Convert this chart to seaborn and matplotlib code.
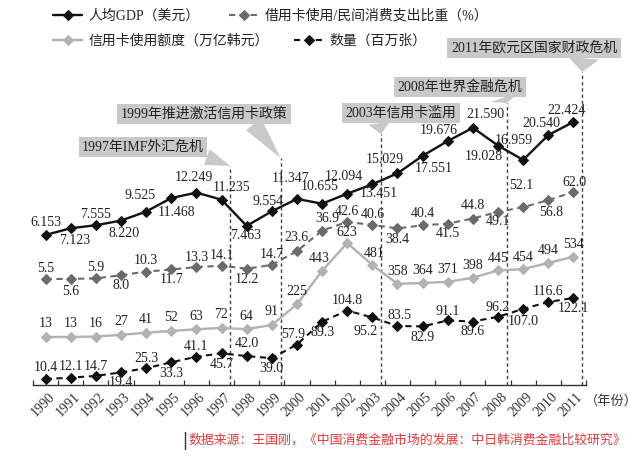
import matplotlib
matplotlib.use("Agg")
import matplotlib.pyplot as plt
import numpy as np
import pandas as pd
import seaborn as sns
from matplotlib.transforms import ScaledTranslation
from matplotlib.lines import Line2D

# ---------------- data ----------------
years = list(range(1990, 2012))
gdp = [6.153, 7.123, 7.555, 8.220, 9.525, 11.468, 12.249, 11.235, 7.463, 9.554, 11.347,
       10.655, 12.094, 13.451, 15.029, 17.551, 19.676, 21.590, 19.028, 16.959, 20.540, 22.424]
card_ratio = [5.5, 5.6, 5.9, 8.0, 10.3, 11.7, 13.3, 14.1, 12.2, 14.7, 23.6,
              36.9, 42.6, 40.6, 38.4, 40.4, 41.5, 44.8, 49.1, 52.1, 56.8, 62.0]
card_amount = [13, 13, 16, 27, 41, 52, 63, 72, 64, 91, 225,
               443, 623, 481, 358, 364, 371, 398, 445, 454, 494, 534]
card_count = [10.4, 12.1, 14.7, 19.4, 25.3, 33.3, 41.1, 45.7, 42, 39.0, 57.9,
              89.3, 104.8, 95.2, 83.5, 82.9, 91.1, 89.6, 96.2, 107.0, 116.6, 122.1]
series_names = ["人均GDP（美元）", "借用卡使用/民间消费支出比重（%）",
                "信用卡使用额度（万亿韩元）", "数量（百万张）"]
event_years = [1997, 1999, 2003, 2008, 2011]
event_labels = ["1997年IMF外汇危机", "1999年推进激活信用卡政策", "2003年信用卡滥用",
                "2008年世界金融危机", "2011年欧元区国家财政危机"]
xlabel_text = "（年份）"
source_text = "数据来源：王国刚，《中国消费金融市场的发展：中日韩消费金融比较研究》"

# ---------------- layout / style ----------------
W, H, DPI = 640, 459, 100
sns.set_theme(style="white")
plt.rcParams["font.family"] = ["Liberation Serif", "Noto Sans CJK SC", "DejaVu Sans"]

fig = plt.figure(figsize=(W / DPI, H / DPI), dpi=DPI)
AX_L, AX_R, AX_T, AX_B = 33, 586, 5, 385


def fy(py):
    return 1 - py / H


ax = fig.add_axes([AX_L / W, fy(AX_B), (AX_R - AX_L) / W, (AX_B - AX_T) / H])
ax.set_facecolor("none")
ax2 = ax.twinx()
ax3 = ax.twinx()
ax4 = ax.twinx()
axes = [ax, ax2, ax3, ax4]

df = pd.DataFrame({"year": years, "gdp": gdp, "ratio": card_ratio,
                   "amount": card_amount, "count": card_count})


# pixel mapping y_px = a - b*v for each series -> ylim
def ylim_for(a, b):
    return ((a - AX_B) / b, (a - AX_T) / b)


maps = [(277.7, 6.945), (287.5, 1.54), (339.0, 0.154), (386.5, 0.725)]
cols = ["gdp", "ratio", "amount", "count"]
colors = ["#111111", "#6b6b6b", "#b2b2b2", "#111111"]
dashed = [False, True, False, True]
handles = []
for a_, col, c, d, mp in zip(axes, cols, colors, dashed, maps):
    sns.lineplot(data=df, x="year", y=col, ax=a_, color=c, marker="D", markersize=5,
                 markeredgecolor=c, linewidth=1.7 if not d else 1.5)
    ln = a_.get_lines()[-1]
    if d:
        ln.set_dashes([3, 2.2])
    handles.append(ln)
    a_.set_ylim(*ylim_for(*mp))
    a_.set_xlim(1989.5, 2011.5)
    a_.set_ylabel("")
    a_.set_xlabel("")
    a_.yaxis.set_visible(False)
    for s in a_.spines.values():
        s.set_visible(False)

ax.spines["bottom"].set_visible(True)
ax.spines["bottom"].set_color("#333333")
ax.spines["bottom"].set_linewidth(1.0)

# x ticks
ax.set_xticks(years)
ax.set_xticklabels([str(y) for y in years], rotation=45, ha="right", va="center",
                   rotation_mode="anchor", fontsize=10, color="#333333")
ax.set_xticks(np.arange(1989.5, 2012, 1), minor=True)
ax.tick_params(axis="x", which="major", length=0, pad=7.0)
ax.tick_params(axis="x", which="minor", length=3.5, direction="in", color="#333333",
               width=0.9, bottom=True)
for lab in ax.get_xticklabels():
    lab.set_transform(lab.get_transform() + ScaledTranslation(7 / DPI, 0, fig.dpi_scale_trans))

fig.text(611 / W, fy(401), xlabel_text, ha="center", va="center", fontsize=9.5, color="#333333")

# data labels (offsets in pixels, dy upward)
gdp_off = [(0, 12), (4, -12), (0, 11), (3, -13), (-6, 16), (5, -14), (-2, 15), (10, 12),
           (-1, -10), (-4, 10), (-6, 20), (-2, 17), (-3, 17), (6, -9), (-13, 14), (11, -13),
           (-9, 11), (13, 13), (-14, -11), (-9, 19), (-7, 12), (-7, 11)]
ratio_off = [(0, 11), (0, -13), (0, 11), (0, -10), (0, 11), (0, -10), (0, 10), (0, 10),
             (0, -11), (0, 10), (0, 14), (5, 12), (0, 10), (0, 10), (0, -11), (0, 12),
             (0, -10), (0, 13), (0, -10), (-2, 22), (3, -12), (1, 10)]
amount_off = [(0, 13)] * 11 + [(-3, 12), (0, 11), (2, 11)] + [(0, 12)] * 8
count_off = [(0, 11), (0, 11), (0, 9), (0, -10), (0, 10), (0, -11), (0, 10), (0, -11),
             (0, 13), (0, -10), (-4, 10), (0, -11), (0, 10), (-7, -14), (2, 10), (0, -11),
             (0, 9), (0, -10), (0, 9), (0, -13), (0, 10), (0, -11)]
fmts = [lambda v: f"{v:.3f}", lambda v: f"{v:.1f}", lambda v: f"{v:d}", lambda v: str(v)]
for a_, col, offs, fm in zip(axes, cols, [gdp_off, ratio_off, amount_off, count_off], fmts):
    for yr, v, (dx, dy) in zip(years, df[col].tolist(), offs):
        a_.annotate(fm(v), xy=(yr, v), xytext=(dx, dy), textcoords="offset pixels",
                    ha="center", va="center", fontsize=10, color="#222222", zorder=5)

# event lines and callouts
line_top_px = [166, 158, 134, 103, 72]
box_center_px = [(143, 147), (204, 114), (401, 113), (460, 87), (534, 48)]
relpos = [(0.92, 0.1), (0.78, 0.0), (0.3, 0.0), (0.85, 0.0), (0.8, 0.0)]
tail_w = [1.2, 1.4, 1.6, 2.2, 2.2]
trans = ax.get_xaxis_transform()
for yr, lab, top, (bx, by), rp, tw in zip(event_years, event_labels, line_top_px,
                                         box_center_px, relpos, tail_w):
    xe = yr + 0.35
    frac = (AX_B - top) / (AX_B - AX_T)
    ax.plot([xe, xe], [0, frac], transform=trans, color="#444444", lw=1.0,
            dashes=[2.5, 2], zorder=1)
    ax4.annotate(lab, xy=(xe, frac), xycoords=trans, xytext=(bx, H - by),
                 textcoords="figure pixels", ha="center", va="center", fontsize=10,
                 color="#222222",
                 bbox=dict(boxstyle="square,pad=0.25", fc="#c9c9c9", ec="none"),
                 arrowprops=dict(arrowstyle=f"wedge,tail_width={tw},shrink_factor=0.5",
                                 fc="#c9c9c9", ec="none", relpos=rp, mutation_scale=10,
                                 shrinkA=0, shrinkB=0),
                 zorder=6)

# legend (one per entry)
leg_pos = [(53, 16), (229, 16), (53, 41), (294, 41)]
for h, name, (lx, ly) in zip(handles, series_names, leg_pos):
    lg = fig.legend([h], [name], loc="center left", bbox_to_anchor=(lx / W, fy(ly)),
                    frameon=False, borderpad=0, borderaxespad=0, handlelength=2.1,
                    handletextpad=0.45, fontsize=10, labelcolor="#222222")

# source
fig.text(188 / W, fy(440), source_text, ha="left", va="center", fontsize=9.3,
         color="#e23b3b", style="italic")
fig.add_artist(Line2D([185 / W, 185 / W], [fy(432), fy(449)], color="#333333", lw=1.0))

fig.savefig("out.png", dpi=DPI)
